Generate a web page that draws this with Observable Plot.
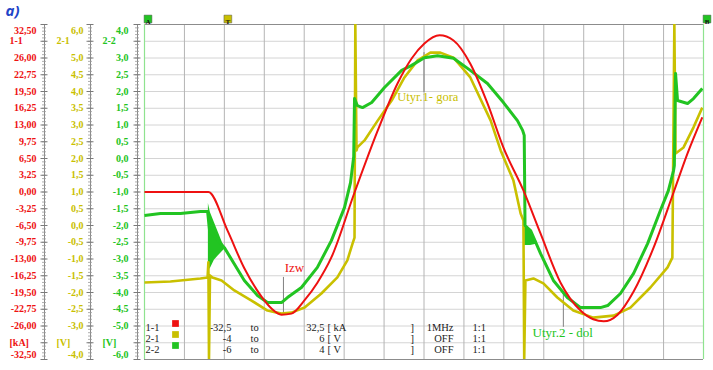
<!DOCTYPE html>
<html><head><meta charset="utf-8">
<script src="https://cdn.jsdelivr.net/npm/d3@7"></script>
<script src="https://cdn.jsdelivr.net/npm/@observablehq/plot@0.6"></script>
<style>body{margin:0;background:#fff;overflow:hidden} #chart svg{display:block}</style>
</head><body><div id="chart"></div>
<script>
// ---- time in screen divisions (0..14) ----
const timeDivisions = [0,1,2,3,4,5,6,7,8,9,10,11,12,13,14];

// ---- 1-1 : current [kA] (range -32.5 .. 32.5) ----
const redT  = [0,1.60,2.08,2.50,2.93,3.18,3.43,3.68,4.01,4.33,4.68,5.26,5.84,6.34,6.69,7.01,7.39,7.74,8.16,8.59,8.99,9.49,9.92,10.42,10.92,11.24,11.50,11.85,12.25,12.75,13.25,13.60,13.97];
const redKA = [0,0,-7.5,-14.8,-20.3,-22.6,-23.8,-23.6,-21.0,-17.6,-12.7,-0.1,11.9,21.1,25.9,28.8,30.4,29.4,24.9,17.2,8.6,0.3,-8.1,-17.6,-23.0,-24.7,-25.1,-23.8,-19.3,-10.8,-0.1,7.5,14.5];

// ---- 2-1 : voltage [V] (range -4 .. 6) ----
const yelT = [0,0.65,1.40,1.58,1.60,1.615,1.64,1.70,1.93,2.25,2.68,3.08,3.43,3.68,4.01,4.43,4.83,5.08,5.21,5.26,5.28,5.31,5.33,5.51,5.84,6.19,6.51,6.84,7.16,7.41,7.74,8.16,8.67,8.92,9.24,9.42,9.49,9.51,9.54,9.74,9.99,10.34,10.74,11.24,11.75,12.17,12.67,13.10,13.22,13.27,13.30,13.50,13.75,13.97];
const yelV = [-1.70,-1.67,-1.58,-1.55,-1.10,-4.0,-1.49,-1.55,-1.64,-1.94,-2.24,-2.54,-2.63,-2.60,-2.45,-2.03,-1.55,-1.04,-0.54,-0.36,6.0,2.24,2.33,2.54,3.13,3.73,4.42,4.93,5.16,5.16,5.01,4.42,3.13,2.24,1.34,0.36,0.15,-4.0,-1.64,-1.58,-1.73,-2.15,-2.54,-2.75,-2.69,-2.45,-1.85,-1.25,-0.96,6.0,2.15,2.33,2.93,3.52];

// ---- 2-2 : voltage [V] (range -6 .. 4) ----
const grnT = [0,0.40,0.90,1.40,1.58,1.63,2.00,2.50,2.83,3.08,3.43,3.58,3.93,4.33,4.68,5.01,5.16,5.24,5.26,5.33,5.46,5.69,6.01,6.44,6.69,7.01,7.34,7.74,8.16,8.59,8.99,9.34,9.47,9.51,9.53,9.67,9.92,10.24,10.59,10.92,11.42,11.60,11.92,12.25,12.60,12.92,13.12,13.25,13.27,13.30,13.35,13.60,13.75,13.97];
const grnV = [-1.70,-1.64,-1.64,-1.58,-1.58,-2.15,-2.66,-3.64,-4.09,-4.30,-4.30,-4.15,-3.85,-3.25,-2.45,-1.46,-0.72,0.06,1.79,1.58,1.52,1.67,2.12,2.63,2.78,3.01,3.07,2.99,2.63,2.24,1.67,1.13,0.84,0.69,-2.00,-2.15,-2.84,-3.64,-4.15,-4.45,-4.45,-4.39,-4.03,-3.43,-2.54,-1.55,-0.96,-0.36,-0.21,2.54,1.73,1.64,1.79,2.09];
// ringing envelopes of 2-2 after the switching edges
const ring1T = [1.60,1.65,1.75,1.85,2.00];
const ring1Hi = [-1.34,-1.61,-1.91,-2.21,-2.66];
const ring1Lo = [-3.34,-3.28,-3.04,-2.90,-2.72];
const ring2T = [9.52,9.67,9.84];
const ring2Hi = [-1.95,-2.15,-2.50];
const ring2Lo = [-2.60,-2.60,-2.55];

// ---- scale labels (one per grid level, top to bottom) ----
const gridLevels = [4,3.5,3,2.5,2,1.5,1,0.5,0,-0.5,-1,-1.5,-2,-2.5,-3,-3.5,-4,-4.5,-5,-5.5,-6];
const redLabels = ["32,50","1-1","26,00","22,75","19,50","16,25","13,00","9,75","6,50","3,25","0,00","-3,25","-6,50","-9,75","-13,00","-16,25","-19,50","-22,75","-26,00","[kA]","-32,50"];
const yelLabels = ["6,0","2-1","5,0","4,5","4,0","3,5","3,0","2,5","2,0","1,5","1,0","0,5","0,0","-0,5","-1,0","-1,5","-2,0","-2,5","-3,0","[V]","-4,0"];
const grnLabels = ["4,0","2-2","3,0","2,5","2,0","1,5","1,0","0,5","0,0","-0,5","-1,0","-1,5","-2,0","-2,5","-3,0","-3,5","-4,0","-4,5","-5,0","[V]","-6,0"];

// ---- channel table ----
const chNames = ["1-1","2-1","2-2"];
const chLow = ["-32,5","-4","-6"];
const chHigh = ["32,5","6","4"];
const chUnit = ["[ kA","[ V","[ V"];
const chFilter = ["1MHz","OFF","OFF"];
const chRatio = ["1:1","1:1","1:1"];

// ---- annotations ----
const noteText = ["Izw","Utyr.1- gora","Utyr.2 - dol"];
const noteT = [3.51, 6.33, 9.72];
const noteV = [-3.27, 1.85, -5.21];
const noteLeaderT = [3.48, 7.00, 10.49];
const noteLeaderV1 = [-3.55, 3.16, -4.03];
const noteLeaderV2 = [-4.60, 1.97, -5.04];

// ---- cursors ----
const cursorLabel = ["A","T","B"];
const cursorT = [0, 2, 14];

const RED = "#ee1111", YEL = "#c9c000", GRN = "#22c422";
const toDisp = {red: kA => -1 + kA / 6.5, yel: v => v - 2, grn: v => v};

const red = redT.map((t,i)=>({t, v: toDisp.red(redKA[i])}));
const yel = yelT.map((t,i)=>({t, v: toDisp.yel(yelV[i])}));
const grn = grnT.map((t,i)=>({t, v: grnV[i]}));
const ring1 = ring1T.map((t,i)=>({t, hi: ring1Hi[i], lo: ring1Lo[i]}));
const ring2 = ring2T.map((t,i)=>({t, hi: ring2Hi[i], lo: ring2Lo[i]}));
const noteColors = [RED, YEL, GRN];
const noteSizes = [13, 12.5, 13];
const notes = noteText.map((s,i)=>({s, t: noteT[i], v: noteV[i], c: noteColors[i]}));
const leaders = noteText.map((s,i)=>({t: noteLeaderT[i], v1: noteLeaderV1[i], v2: noteLeaderV2[i]}));

const ML = 144, MT = 24;
const font = "Liberation Serif";

function axisColumn(labels, color, numRight, tagLeft) {
  const d = labels.map((s,i)=>({s, v: gridLevels[i], i}));
  const common = {y: "v", text: "s", frameAnchor: "left", fill: color, fontSize: 10, fontWeight: "bold", fontFamily: font};
  return [
    Plot.text(d.filter(e=>e.i>1 && e.i<19), {...common, dx: numRight-ML, textAnchor: "end"}),
    Plot.text(d.filter(e=>e.i===0), {...common, dx: numRight-ML, textAnchor: "end", dy: 6}),
    Plot.text(d.filter(e=>e.i===20), {...common, dx: numRight-ML, textAnchor: "end", dy: -5}),
    Plot.text(d.filter(e=>e.i===1 || e.i===19), {...common, dx: tagLeft-ML, textAnchor: "start"})
  ];
}

const pxPerDiv = 559/14;
const rulerCenters = [44, 90, 137].map(px => (px-ML)/pxPerDiv);
const minorLevels = d3.range(0, 101).map(k => -6 + k*0.1);
function ruler(cx) {
  const w1 = 2/pxPerDiv, w2 = 3.5/pxPerDiv;
  return [
    Plot.ruleX([cx], {y1: -6, y2: 4, stroke: "#8a8a8a", strokeWidth: 1}),
    Plot.ruleY(minorLevels, {y: d=>d, x1: cx-w1, x2: cx+w1, stroke: "#9a9a9a", strokeWidth: 0.8}),
    Plot.ruleY(gridLevels, {y: d=>d, x1: cx-w2, x2: cx+w2, stroke: "#7a7a7a", strokeWidth: 1})
  ];
}

// channel table marks
const rowY = [323, 334, 345];
const swatch = [RED, YEL, GRN];
const tableMarks = [];
chNames.forEach((n,i)=>{
  const dy = rowY[i]-MT;
  const t = {frameAnchor: "top-left", fontSize: 10.5, fontFamily: font, fill: "#222", dy};
  tableMarks.push(
    Plot.text([n], {...t, dx: 145-ML, textAnchor: "start"}),
    Plot.dot([0], {frameAnchor: "top-left", dx: 175-ML, dy, symbol: "square", r: 3.8, fill: swatch[i], stroke: null}),
    Plot.text([chLow[i]], {...t, dx: 231-ML, textAnchor: "end"}),
    Plot.text(["to"], {...t, dx: 250-ML, textAnchor: "start"}),
    Plot.text([chHigh[i]], {...t, dx: 324-ML, textAnchor: "end"}),
    Plot.text([chUnit[i]], {...t, dx: 327-ML, textAnchor: "start"}),
    Plot.text(["]"], {...t, dx: 410-ML, textAnchor: "start"}),
    Plot.text([chFilter[i]], {...t, dx: 453-ML, textAnchor: "end"}),
    Plot.text([chRatio[i]], {...t, dx: 472-ML, textAnchor: "start"})
  );
});

const cursorColors = [GRN, YEL, GRN];
const cursors = cursorLabel.map((s,i)=>({s, t: cursorT[i], c: cursorColors[i]}));
const traceStyle = {x: "t", y: "v", clip: true, strokeLinejoin: "round", strokeLinecap: "butt"};

const chart = Plot.plot({
  width: 713, height: 370,
  marginLeft: ML, marginRight: 10, marginTop: MT, marginBottom: 11,
  x: {domain: [0,14], axis: null},
  y: {domain: [-6,4], axis: null},
  style: {fontFamily: font, background: "#fff"},
  marks: [
    Plot.ruleY(gridLevels, {stroke: "#d4d4d4", strokeWidth: 1}),
    Plot.ruleX(timeDivisions, {stroke: "#b4b4b4", strokeWidth: 1}),
    Plot.ruleY([4], {stroke: "#8c8c8c", strokeWidth: 1}),
    Plot.ruleY([-6], {stroke: "#8c8c8c", strokeWidth: 1}),
    Plot.ruleX([0, 14], {stroke: "#8fe38f", strokeWidth: 1.2}),
    ...tableMarks,
    Plot.ruleX(leaders, {x: "t", y1: "v1", y2: "v2", stroke: "#808080", strokeWidth: 1}),
    Plot.areaY(ring1, {x: "t", y1: "lo", y2: "hi", fill: GRN}),
    Plot.areaY(ring2, {x: "t", y1: "lo", y2: "hi", fill: GRN}),
    Plot.line(yel, {...traceStyle, stroke: YEL, strokeWidth: 2.6}),
    Plot.line(grn, {...traceStyle, stroke: GRN, strokeWidth: 3}),
    Plot.line(red, {...traceStyle, stroke: RED, strokeWidth: 2, curve: "monotone-x"}),
    ...notes.map((n,i) => Plot.text([n], {x: "t", y: "v", text: "s", fill: n.c, fontSize: noteSizes[i], fontFamily: font, textAnchor: "start"})),
    ...axisColumn(redLabels, RED, 36, 9),
    ...axisColumn(yelLabels, YEL, 83, 56),
    ...axisColumn(grnLabels, GRN, 128, 102),
    ...rulerCenters.flatMap(ruler),
    Plot.dot(cursors, {x: "t", frameAnchor: "top", dy: -5.5, dx: 3.5, symbol: "square", r: 4.4, fill: "c", stroke: "#555", strokeWidth: 0.5}),
    Plot.text(cursors, {x: "t", frameAnchor: "top", dy: -5.5, dx: 3.5, text: "s", fontSize: 7, fontWeight: "bold", fill: "#111"}),
    Plot.text(["a)"], {frameAnchor: "top-left", dx: 5-ML, dy: 11-MT, textAnchor: "start", lineAnchor: "middle", fontSize: 15, fontWeight: "bold", fontStyle: "italic", fontFamily: "Open Sans", fill: "#1f45c8"})
  ]
});
document.getElementById("chart").appendChild(chart);
</script>
</body></html>
